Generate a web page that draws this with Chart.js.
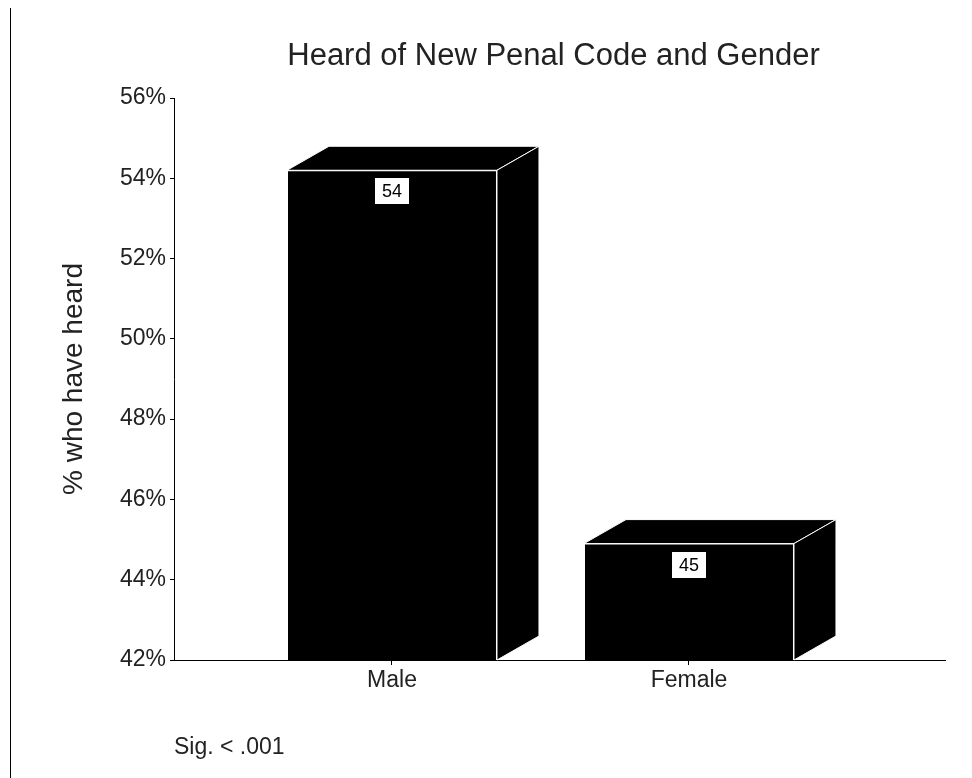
<!DOCTYPE html>
<html>
<head>
<meta charset="utf-8">
<script src="https://cdn.jsdelivr.net/npm/chart.js@4/dist/chart.umd.min.js"></script>
<style>
  html, body { margin: 0; padding: 0; background: #fff; }
  #wrap { width: 972px; height: 778px; }
</style>
</head>
<body>
<div id="wrap"><canvas id="c" width="972" height="778"></canvas></div>
<script>
const categories = ['Male', 'Female'];
const percentHeard = [54.2, 44.9];
const valueLabels = ['54', '45'];
const yTicks = [42, 44, 46, 48, 50, 52, 54, 56];
const chartTitle = 'Heard of New Penal Code and Gender';
const yTitle = '% who have heard';
const footNote = 'Sig. < .001';

const FONT = "'Liberation Sans', Arial, Helvetica, sans-serif";
const DEPTH_X = 42, DEPTH_Y = 24;

const pts = categories.map((c, i) => ({ x: i, y: percentHeard[i] }));

const frame3d = {
  id: 'frame3d',
  beforeDatasetsDraw(chart) {
    const ctx = chart.ctx;
    const meta = chart.getDatasetMeta(0);
    const basePx = chart.scales.y.getPixelForValue(chart.scales.y.min);
    ctx.save();
    ctx.lineWidth = 1;
    ctx.strokeStyle = '#fff';
    ctx.fillStyle = '#000';
    meta.data.forEach(bar => {
      const p = bar.getProps(['x', 'y', 'width'], true);
      const l = p.x - p.width / 2, r = p.x + p.width / 2;
      const t = p.y, b = basePx;
      ctx.beginPath();
      ctx.moveTo(l, t);
      ctx.lineTo(l + DEPTH_X, t - DEPTH_Y);
      ctx.lineTo(r + DEPTH_X, t - DEPTH_Y);
      ctx.lineTo(r, t);
      ctx.closePath();
      ctx.fill();
      ctx.stroke();
      ctx.beginPath();
      ctx.moveTo(r, t);
      ctx.lineTo(r + DEPTH_X, t - DEPTH_Y);
      ctx.lineTo(r + DEPTH_X, b - DEPTH_Y);
      ctx.lineTo(r, b);
      ctx.closePath();
      ctx.fill();
      ctx.stroke();
    });
    ctx.restore();
  },
  afterDatasetsDraw(chart) {
    const ctx = chart.ctx;
    const meta = chart.getDatasetMeta(0);
    ctx.save();
    ctx.font = '18px ' + FONT;
    ctx.textAlign = 'center';
    ctx.textBaseline = 'middle';
    meta.data.forEach((bar, i) => {
      const p = bar.getProps(['x', 'y'], true);
      const cy = p.y + 21;
      ctx.fillStyle = '#fff';
      ctx.fillRect(Math.round(p.x - 17), Math.round(cy - 13), 34, 26);
      ctx.fillStyle = '#000';
      ctx.fillText(valueLabels[i], p.x, cy + 1);
    });
    ctx.restore();
  },
  afterDraw(chart) {
    const ctx = chart.ctx;
    ctx.save();
    ctx.strokeStyle = '#000';
    ctx.lineWidth = 1;
    ctx.beginPath();
    ctx.moveTo(10.5, 8);
    ctx.lineTo(10.5, 778);
    ctx.stroke();
    ctx.fillStyle = '#222';
    ctx.font = '31px ' + FONT;
    ctx.textAlign = 'center';
    ctx.textBaseline = 'middle';
    ctx.fillText(chartTitle, 553.5, 56);
    ctx.restore();
  }
};

new Chart(document.getElementById('c'), {
  type: 'bar',
  data: {
    datasets: [{
      data: pts,
      backgroundColor: '#000',
      borderColor: '#fff',
      borderWidth: 1,
      borderSkipped: 'bottom',
      categoryPercentage: 1,
      barPercentage: 0.707
    }]
  },
  plugins: [frame3d],
  options: {
    responsive: false,
    animation: false,
    layout: { padding: { left: 0, right: 27, top: 98, bottom: 0 } },
    plugins: {
      legend: { display: false },
      tooltip: { enabled: false },
      title: { display: false }
    },
    scales: {
      x: {
        type: 'linear',
        min: -0.734,
        max: 1.862,
        offset: false,
        afterFit(s) { s.height = 118; },
        afterBuildTicks(s) { s.ticks = categories.map((c, i) => ({ value: i })); },
        ticks: {
          autoSkip: false,
          maxRotation: 0,
          padding: 2,
          color: '#222',
          font: { family: FONT, size: 23 },
          callback: v => categories[v] !== undefined ? categories[v] : ''
        },
        grid: { drawOnChartArea: false, drawTicks: true, tickLength: 5, color: '#000', offset: false },
        border: { color: '#000', width: 1 },
        title: {
          display: true,
          text: footNote,
          align: 'start',
          color: '#222',
          font: { family: FONT, size: 23 },
          padding: { top: 0, bottom: 17 }
        }
      },
      y: {
        min: 42,
        max: 56,
        afterFit(s) { s.width = 174; },
        afterBuildTicks(s) { s.ticks = yTicks.map(v => ({ value: v })); },
        ticks: {
          padding: 4,
          color: '#222',
          font: { family: FONT, size: 23 },
          callback: v => v + '%'
        },
        grid: { drawOnChartArea: false, drawTicks: true, tickLength: 4, color: '#000' },
        border: { color: '#000', width: 1 },
        title: {
          display: true,
          text: yTitle,
          color: '#222',
          font: { family: FONT, size: 28 },
          padding: { top: 57, bottom: 0 }
        }
      }
    }
  }
});
</script>
</body>
</html>
